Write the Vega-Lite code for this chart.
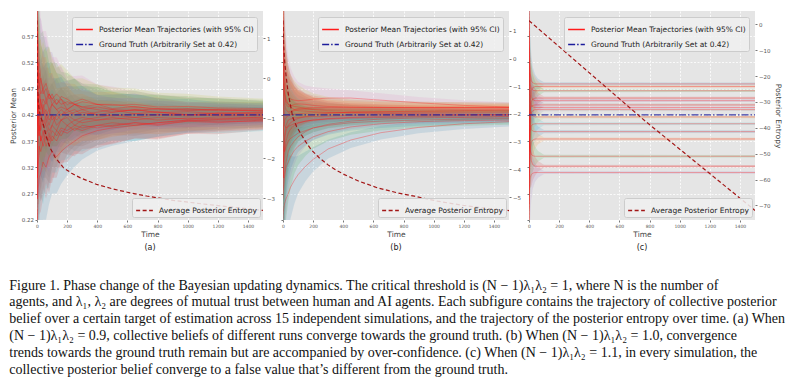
{
"$schema":"https://vega.github.io/schema/vega-lite/v6.json",
"background":"white",
"padding":{"left":9,"top":11,"right":5,"bottom":5},
"datasets":{
"gt":[{"t":0,"m":0.42},{"t":1500,"m":0.42}],
"eA":[{"t":0,"e":0.25},{"t":3,"e":0.2},{"t":8,"e":0.16},{"t":15,"e":0.13},{"t":25,"e":0.115},{"t":40,"e":0.11},{"t":60,"e":0.1},{"t":80,"e":0.09},{"t":100,"e":0.08},{"t":130,"e":0.07},{"t":160,"e":0.062},{"t":200,"e":0.055},{"t":250,"e":0.049},{"t":300,"e":0.045},{"t":400,"e":0.038},{"t":500,"e":0.034},{"t":650,"e":0.03},{"t":800,"e":0.027},{"t":1000,"e":0.024},{"t":1200,"e":0.022},{"t":1500,"e":0.019}],
"eB":[{"t":0,"e":0.25},{"t":4,"e":0.2},{"t":10,"e":0.14},{"t":20,"e":0.1},{"t":35,"e":0.075},{"t":50,"e":0.06},{"t":75,"e":0.045},{"t":100,"e":0.036},{"t":150,"e":0.028},{"t":200,"e":0.023},{"t":300,"e":0.018},{"t":450,"e":0.015},{"t":650,"e":0.013},{"t":900,"e":0.011},{"t":1200,"e":0.01},{"t":1500,"e":0.009}],
"eC":[{"t":0,"e":0.2},{"t":3,"e":0.13},{"t":8,"e":0.08},{"t":15,"e":0.05},{"t":25,"e":0.03},{"t":40,"e":0.018},{"t":60,"e":0.01},{"t":100,"e":0.003},{"t":1500,"e":0.0025}],
"hA":[{"t":0,"v":1.44},{"t":1,"v":0.75},{"t":2,"v":0.25},{"t":4,"v":-0.2},{"t":9,"v":-0.66},{"t":20,"v":-0.92},{"t":42,"v":-1.16},{"t":60,"v":-1.45},{"t":86,"v":-1.74},{"t":120,"v":-1.98},{"t":175,"v":-2.24},{"t":230,"v":-2.38},{"t":285,"v":-2.49},{"t":396,"v":-2.66},{"t":500,"v":-2.77},{"t":617,"v":-2.87},{"t":728,"v":-2.95},{"t":904,"v":-3.06},{"t":1126,"v":-3.16},{"t":1300,"v":-3.23},{"t":1500,"v":-3.31}],
"hB":[{"t":0,"v":1.38},{"t":2,"v":0.9},{"t":5,"v":0.4},{"t":11,"v":-0.1},{"t":20,"v":-0.6},{"t":33,"v":-1.2},{"t":50,"v":-1.7},{"t":66,"v":-2.14},{"t":90,"v":-2.45},{"t":121,"v":-2.74},{"t":150,"v":-3.0},{"t":187,"v":-3.29},{"t":240,"v":-3.58},{"t":297,"v":-3.83},{"t":350,"v":-4.02},{"t":408,"v":-4.19},{"t":500,"v":-4.42},{"t":628,"v":-4.67},{"t":760,"v":-4.85},{"t":872,"v":-4.97},{"t":1026,"v":-5.15},{"t":1181,"v":-5.29},{"t":1350,"v":-5.41},{"t":1500,"v":-5.49}],
"hC":[{"t":0,"v":1.4},{"t":767,"v":-37.2},{"t":1500,"v":-71.9}],
"A":[
{"r":3,"t":0,"m":0.6},{"r":3,"t":3,"m":0.52},{"r":3,"t":8,"m":0.48},{"r":3,"t":15,"m":0.5},{"r":3,"t":25,"m":0.46},{"r":3,"t":40,"m":0.47},{"r":3,"t":60,"m":0.45},{"r":3,"t":80,"m":0.46},{"r":3,"t":100,"m":0.44},{"r":3,"t":130,"m":0.45},{"r":3,"t":160,"m":0.44},{"r":3,"t":200,"m":0.445},{"r":3,"t":250,"m":0.44},{"r":3,"t":300,"m":0.435},{"r":3,"t":400,"m":0.44},{"r":3,"t":500,"m":0.432},{"r":3,"t":650,"m":0.436},{"r":3,"t":800,"m":0.43},{"r":3,"t":1000,"m":0.432},{"r":3,"t":1200,"m":0.428},{"r":3,"t":1500,"m":0.43},
{"r":2,"t":0,"m":0.3},{"r":2,"t":3,"m":0.36},{"r":2,"t":8,"m":0.41},{"r":2,"t":15,"m":0.38},{"r":2,"t":25,"m":0.4},{"r":2,"t":40,"m":0.43},{"r":2,"t":60,"m":0.41},{"r":2,"t":80,"m":0.42},{"r":2,"t":100,"m":0.44},{"r":2,"t":130,"m":0.43},{"r":2,"t":160,"m":0.42},{"r":2,"t":200,"m":0.425},{"r":2,"t":250,"m":0.43},{"r":2,"t":300,"m":0.42},{"r":2,"t":400,"m":0.425},{"r":2,"t":500,"m":0.43},{"r":2,"t":650,"m":0.422},{"r":2,"t":800,"m":0.426},{"r":2,"t":1000,"m":0.42},{"r":2,"t":1200,"m":0.423},{"r":2,"t":1500,"m":0.425},
{"r":1,"t":0,"m":0.24},{"r":1,"t":3,"m":0.22},{"r":1,"t":8,"m":0.28},{"r":1,"t":15,"m":0.3},{"r":1,"t":25,"m":0.31},{"r":1,"t":40,"m":0.33},{"r":1,"t":60,"m":0.32},{"r":1,"t":80,"m":0.34},{"r":1,"t":100,"m":0.35},{"r":1,"t":130,"m":0.34},{"r":1,"t":160,"m":0.35},{"r":1,"t":200,"m":0.36},{"r":1,"t":250,"m":0.37},{"r":1,"t":300,"m":0.38},{"r":1,"t":400,"m":0.39},{"r":1,"t":500,"m":0.395},{"r":1,"t":650,"m":0.4},{"r":1,"t":800,"m":0.405},{"r":1,"t":1000,"m":0.41},{"r":1,"t":1200,"m":0.412},{"r":1,"t":1500,"m":0.416},
{"r":4,"t":0,"m":0.5},{"r":4,"t":3,"m":0.58},{"r":4,"t":8,"m":0.45},{"r":4,"t":15,"m":0.4},{"r":4,"t":25,"m":0.37},{"r":4,"t":40,"m":0.39},{"r":4,"t":60,"m":0.36},{"r":4,"t":80,"m":0.38},{"r":4,"t":100,"m":0.37},{"r":4,"t":130,"m":0.39},{"r":4,"t":160,"m":0.38},{"r":4,"t":200,"m":0.4},{"r":4,"t":250,"m":0.39},{"r":4,"t":300,"m":0.4},{"r":4,"t":400,"m":0.395},{"r":4,"t":500,"m":0.4},{"r":4,"t":650,"m":0.405},{"r":4,"t":800,"m":0.4},{"r":4,"t":1000,"m":0.408},{"r":4,"t":1200,"m":0.405},{"r":4,"t":1500,"m":0.41},
{"r":5,"t":0,"m":0.45},{"r":5,"t":3,"m":0.4},{"r":5,"t":8,"m":0.52},{"r":5,"t":15,"m":0.47},{"r":5,"t":25,"m":0.49},{"r":5,"t":40,"m":0.46},{"r":5,"t":60,"m":0.47},{"r":5,"t":80,"m":0.45},{"r":5,"t":100,"m":0.46},{"r":5,"t":130,"m":0.44},{"r":5,"t":160,"m":0.45},{"r":5,"t":200,"m":0.43},{"r":5,"t":250,"m":0.44},{"r":5,"t":300,"m":0.435},{"r":5,"t":400,"m":0.43},{"r":5,"t":500,"m":0.425},{"r":5,"t":650,"m":0.43},{"r":5,"t":800,"m":0.425},{"r":5,"t":1000,"m":0.42},{"r":5,"t":1200,"m":0.424},{"r":5,"t":1500,"m":0.422},
{"r":6,"t":0,"m":0.35},{"r":6,"t":3,"m":0.45},{"r":6,"t":8,"m":0.38},{"r":6,"t":15,"m":0.42},{"r":6,"t":25,"m":0.39},{"r":6,"t":40,"m":0.41},{"r":6,"t":60,"m":0.4},{"r":6,"t":80,"m":0.38},{"r":6,"t":100,"m":0.4},{"r":6,"t":130,"m":0.39},{"r":6,"t":160,"m":0.41},{"r":6,"t":200,"m":0.4},{"r":6,"t":250,"m":0.41},{"r":6,"t":300,"m":0.405},{"r":6,"t":400,"m":0.41},{"r":6,"t":500,"m":0.415},{"r":6,"t":650,"m":0.41},{"r":6,"t":800,"m":0.415},{"r":6,"t":1000,"m":0.412},{"r":6,"t":1200,"m":0.416},{"r":6,"t":1500,"m":0.415},
{"r":7,"t":0,"m":0.55},{"r":7,"t":3,"m":0.62},{"r":7,"t":8,"m":0.56},{"r":7,"t":15,"m":0.52},{"r":7,"t":25,"m":0.49},{"r":7,"t":40,"m":0.47},{"r":7,"t":60,"m":0.48},{"r":7,"t":80,"m":0.46},{"r":7,"t":100,"m":0.45},{"r":7,"t":130,"m":0.46},{"r":7,"t":160,"m":0.45},{"r":7,"t":200,"m":0.44},{"r":7,"t":250,"m":0.445},{"r":7,"t":300,"m":0.45},{"r":7,"t":400,"m":0.44},{"r":7,"t":500,"m":0.44},{"r":7,"t":650,"m":0.435},{"r":7,"t":800,"m":0.432},{"r":7,"t":1000,"m":0.43},{"r":7,"t":1200,"m":0.43},{"r":7,"t":1500,"m":0.428},
{"r":8,"t":0,"m":0.28},{"r":8,"t":3,"m":0.33},{"r":8,"t":8,"m":0.36},{"r":8,"t":15,"m":0.4},{"r":8,"t":25,"m":0.37},{"r":8,"t":40,"m":0.38},{"r":8,"t":60,"m":0.41},{"r":8,"t":80,"m":0.39},{"r":8,"t":100,"m":0.4},{"r":8,"t":130,"m":0.42},{"r":8,"t":160,"m":0.41},{"r":8,"t":200,"m":0.415},{"r":8,"t":250,"m":0.4},{"r":8,"t":300,"m":0.41},{"r":8,"t":400,"m":0.415},{"r":8,"t":500,"m":0.42},{"r":8,"t":650,"m":0.415},{"r":8,"t":800,"m":0.42},{"r":8,"t":1000,"m":0.418},{"r":8,"t":1200,"m":0.42},{"r":8,"t":1500,"m":0.419},
{"r":9,"t":0,"m":0.58},{"r":9,"t":3,"m":0.48},{"r":9,"t":8,"m":0.44},{"r":9,"t":15,"m":0.46},{"r":9,"t":25,"m":0.43},{"r":9,"t":40,"m":0.45},{"r":9,"t":60,"m":0.44},{"r":9,"t":80,"m":0.46},{"r":9,"t":100,"m":0.45},{"r":9,"t":130,"m":0.44},{"r":9,"t":160,"m":0.455},{"r":9,"t":200,"m":0.45},{"r":9,"t":250,"m":0.44},{"r":9,"t":300,"m":0.445},{"r":9,"t":400,"m":0.44},{"r":9,"t":500,"m":0.438},{"r":9,"t":650,"m":0.44},{"r":9,"t":800,"m":0.435},{"r":9,"t":1000,"m":0.436},{"r":9,"t":1200,"m":0.433},{"r":9,"t":1500,"m":0.432},
{"r":10,"t":0,"m":0.4},{"r":10,"t":3,"m":0.3},{"r":10,"t":8,"m":0.33},{"r":10,"t":15,"m":0.35},{"r":10,"t":25,"m":0.38},{"r":10,"t":40,"m":0.36},{"r":10,"t":60,"m":0.38},{"r":10,"t":80,"m":0.37},{"r":10,"t":100,"m":0.39},{"r":10,"t":130,"m":0.38},{"r":10,"t":160,"m":0.395},{"r":10,"t":200,"m":0.39},{"r":10,"t":250,"m":0.4},{"r":10,"t":300,"m":0.395},{"r":10,"t":400,"m":0.4},{"r":10,"t":500,"m":0.405},{"r":10,"t":650,"m":0.4},{"r":10,"t":800,"m":0.405},{"r":10,"t":1000,"m":0.41},{"r":10,"t":1200,"m":0.407},{"r":10,"t":1500,"m":0.408},
{"r":11,"t":0,"m":0.52},{"r":11,"t":3,"m":0.44},{"r":11,"t":8,"m":0.41},{"r":11,"t":15,"m":0.44},{"r":11,"t":25,"m":0.42},{"r":11,"t":40,"m":0.4},{"r":11,"t":60,"m":0.42},{"r":11,"t":80,"m":0.43},{"r":11,"t":100,"m":0.41},{"r":11,"t":130,"m":0.42},{"r":11,"t":160,"m":0.43},{"r":11,"t":200,"m":0.42},{"r":11,"t":250,"m":0.425},{"r":11,"t":300,"m":0.43},{"r":11,"t":400,"m":0.42},{"r":11,"t":500,"m":0.425},{"r":11,"t":650,"m":0.43},{"r":11,"t":800,"m":0.424},{"r":11,"t":1000,"m":0.426},{"r":11,"t":1200,"m":0.422},{"r":11,"t":1500,"m":0.424},
{"r":12,"t":0,"m":0.26},{"r":12,"t":3,"m":0.4},{"r":12,"t":8,"m":0.46},{"r":12,"t":15,"m":0.43},{"r":12,"t":25,"m":0.45},{"r":12,"t":40,"m":0.42},{"r":12,"t":60,"m":0.43},{"r":12,"t":80,"m":0.41},{"r":12,"t":100,"m":0.42},{"r":12,"t":130,"m":0.4},{"r":12,"t":160,"m":0.41},{"r":12,"t":200,"m":0.42},{"r":12,"t":250,"m":0.41},{"r":12,"t":300,"m":0.415},{"r":12,"t":400,"m":0.41},{"r":12,"t":500,"m":0.412},{"r":12,"t":650,"m":0.415},{"r":12,"t":800,"m":0.41},{"r":12,"t":1000,"m":0.414},{"r":12,"t":1200,"m":0.412},{"r":12,"t":1500,"m":0.413},
{"r":13,"t":0,"m":0.48},{"r":13,"t":3,"m":0.56},{"r":13,"t":8,"m":0.5},{"r":13,"t":15,"m":0.48},{"r":13,"t":25,"m":0.44},{"r":13,"t":40,"m":0.43},{"r":13,"t":60,"m":0.45},{"r":13,"t":80,"m":0.43},{"r":13,"t":100,"m":0.44},{"r":13,"t":130,"m":0.43},{"r":13,"t":160,"m":0.435},{"r":13,"t":200,"m":0.43},{"r":13,"t":250,"m":0.44},{"r":13,"t":300,"m":0.43},{"r":13,"t":400,"m":0.435},{"r":13,"t":500,"m":0.43},{"r":13,"t":650,"m":0.428},{"r":13,"t":800,"m":0.432},{"r":13,"t":1000,"m":0.428},{"r":13,"t":1200,"m":0.43},{"r":13,"t":1500,"m":0.427},
{"r":14,"t":0,"m":0.33},{"r":14,"t":3,"m":0.26},{"r":14,"t":8,"m":0.32},{"r":14,"t":15,"m":0.36},{"r":14,"t":25,"m":0.35},{"r":14,"t":40,"m":0.37},{"r":14,"t":60,"m":0.39},{"r":14,"t":80,"m":0.36},{"r":14,"t":100,"m":0.38},{"r":14,"t":130,"m":0.37},{"r":14,"t":160,"m":0.39},{"r":14,"t":200,"m":0.385},{"r":14,"t":250,"m":0.395},{"r":14,"t":300,"m":0.39},{"r":14,"t":400,"m":0.4},{"r":14,"t":500,"m":0.398},{"r":14,"t":650,"m":0.405},{"r":14,"t":800,"m":0.402},{"r":14,"t":1000,"m":0.408},{"r":14,"t":1200,"m":0.41},{"r":14,"t":1500,"m":0.411},
{"r":15,"t":0,"m":0.42},{"r":15,"t":3,"m":0.5},{"r":15,"t":8,"m":0.43},{"r":15,"t":15,"m":0.39},{"r":15,"t":25,"m":0.41},{"r":15,"t":40,"m":0.44},{"r":15,"t":60,"m":0.42},{"r":15,"t":80,"m":0.4},{"r":15,"t":100,"m":0.42},{"r":15,"t":130,"m":0.41},{"r":15,"t":160,"m":0.42},{"r":15,"t":200,"m":0.43},{"r":15,"t":250,"m":0.42},{"r":15,"t":300,"m":0.425},{"r":15,"t":400,"m":0.42},{"r":15,"t":500,"m":0.418},{"r":15,"t":650,"m":0.422},{"r":15,"t":800,"m":0.42},{"r":15,"t":1000,"m":0.421},{"r":15,"t":1200,"m":0.419},{"r":15,"t":1500,"m":0.42}
],
"B":[
{"r":7,"t":0,"m":0.6},{"r":7,"t":4,"m":0.55},{"r":7,"t":10,"m":0.5},{"r":7,"t":20,"m":0.47},{"r":7,"t":35,"m":0.455},{"r":7,"t":50,"m":0.45},{"r":7,"t":75,"m":0.448},{"r":7,"t":100,"m":0.447},{"r":7,"t":150,"m":0.448},{"r":7,"t":200,"m":0.45},{"r":7,"t":300,"m":0.452},{"r":7,"t":450,"m":0.452},{"r":7,"t":650,"m":0.448},{"r":7,"t":900,"m":0.443},{"r":7,"t":1200,"m":0.438},{"r":7,"t":1500,"m":0.435},
{"r":2,"t":0,"m":0.3},{"r":2,"t":4,"m":0.34},{"r":2,"t":10,"m":0.37},{"r":2,"t":20,"m":0.39},{"r":2,"t":35,"m":0.4},{"r":2,"t":50,"m":0.405},{"r":2,"t":75,"m":0.41},{"r":2,"t":100,"m":0.413},{"r":2,"t":150,"m":0.417},{"r":2,"t":200,"m":0.42},{"r":2,"t":300,"m":0.423},{"r":2,"t":450,"m":0.425},{"r":2,"t":650,"m":0.426},{"r":2,"t":900,"m":0.427},{"r":2,"t":1200,"m":0.428},{"r":2,"t":1500,"m":0.429},
{"r":1,"t":0,"m":0.22},{"r":1,"t":4,"m":0.24},{"r":1,"t":10,"m":0.25},{"r":1,"t":20,"m":0.26},{"r":1,"t":35,"m":0.27},{"r":1,"t":50,"m":0.282},{"r":1,"t":75,"m":0.295},{"r":1,"t":100,"m":0.306},{"r":1,"t":150,"m":0.322},{"r":1,"t":200,"m":0.335},{"r":1,"t":300,"m":0.355},{"r":1,"t":450,"m":0.372},{"r":1,"t":650,"m":0.386},{"r":1,"t":900,"m":0.396},{"r":1,"t":1200,"m":0.403},{"r":1,"t":1500,"m":0.407},
{"r":4,"t":0,"m":0.5},{"r":4,"t":4,"m":0.46},{"r":4,"t":10,"m":0.44},{"r":4,"t":20,"m":0.43},{"r":4,"t":35,"m":0.425},{"r":4,"t":50,"m":0.427},{"r":4,"t":75,"m":0.43},{"r":4,"t":100,"m":0.432},{"r":4,"t":150,"m":0.433},{"r":4,"t":200,"m":0.434},{"r":4,"t":300,"m":0.434},{"r":4,"t":450,"m":0.434},{"r":4,"t":650,"m":0.434},{"r":4,"t":900,"m":0.434},{"r":4,"t":1200,"m":0.434},{"r":4,"t":1500,"m":0.434},
{"r":5,"t":0,"m":0.38},{"r":5,"t":4,"m":0.4},{"r":5,"t":10,"m":0.41},{"r":5,"t":20,"m":0.415},{"r":5,"t":35,"m":0.418},{"r":5,"t":50,"m":0.42},{"r":5,"t":75,"m":0.421},{"r":5,"t":100,"m":0.422},{"r":5,"t":150,"m":0.423},{"r":5,"t":200,"m":0.424},{"r":5,"t":300,"m":0.424},{"r":5,"t":450,"m":0.424},{"r":5,"t":650,"m":0.424},{"r":5,"t":900,"m":0.424},{"r":5,"t":1200,"m":0.424},{"r":5,"t":1500,"m":0.424},
{"r":6,"t":0,"m":0.55},{"r":6,"t":4,"m":0.5},{"r":6,"t":10,"m":0.47},{"r":6,"t":20,"m":0.45},{"r":6,"t":35,"m":0.44},{"r":6,"t":50,"m":0.435},{"r":6,"t":75,"m":0.43},{"r":6,"t":100,"m":0.428},{"r":6,"t":150,"m":0.427},{"r":6,"t":200,"m":0.426},{"r":6,"t":300,"m":0.425},{"r":6,"t":450,"m":0.424},{"r":6,"t":650,"m":0.423},{"r":6,"t":900,"m":0.422},{"r":6,"t":1200,"m":0.421},{"r":6,"t":1500,"m":0.42},
{"r":3,"t":0,"m":0.26},{"r":3,"t":4,"m":0.28},{"r":3,"t":10,"m":0.3},{"r":3,"t":20,"m":0.32},{"r":3,"t":35,"m":0.33},{"r":3,"t":50,"m":0.34},{"r":3,"t":75,"m":0.352},{"r":3,"t":100,"m":0.36},{"r":3,"t":150,"m":0.37},{"r":3,"t":200,"m":0.378},{"r":3,"t":300,"m":0.388},{"r":3,"t":450,"m":0.397},{"r":3,"t":650,"m":0.403},{"r":3,"t":900,"m":0.407},{"r":3,"t":1200,"m":0.409},{"r":3,"t":1500,"m":0.41},
{"r":8,"t":0,"m":0.45},{"r":8,"t":4,"m":0.42},{"r":8,"t":10,"m":0.4},{"r":8,"t":20,"m":0.395},{"r":8,"t":35,"m":0.398},{"r":8,"t":50,"m":0.4},{"r":8,"t":75,"m":0.403},{"r":8,"t":100,"m":0.405},{"r":8,"t":150,"m":0.408},{"r":8,"t":200,"m":0.41},{"r":8,"t":300,"m":0.412},{"r":8,"t":450,"m":0.414},{"r":8,"t":650,"m":0.415},{"r":8,"t":900,"m":0.416},{"r":8,"t":1200,"m":0.416},{"r":8,"t":1500,"m":0.417},
{"r":9,"t":0,"m":0.62},{"r":9,"t":4,"m":0.52},{"r":9,"t":10,"m":0.46},{"r":9,"t":20,"m":0.44},{"r":9,"t":35,"m":0.435},{"r":9,"t":50,"m":0.437},{"r":9,"t":75,"m":0.44},{"r":9,"t":100,"m":0.441},{"r":9,"t":150,"m":0.44},{"r":9,"t":200,"m":0.438},{"r":9,"t":300,"m":0.436},{"r":9,"t":450,"m":0.435},{"r":9,"t":650,"m":0.434},{"r":9,"t":900,"m":0.434},{"r":9,"t":1200,"m":0.434},{"r":9,"t":1500,"m":0.434},
{"r":10,"t":0,"m":0.33},{"r":10,"t":4,"m":0.36},{"r":10,"t":10,"m":0.38},{"r":10,"t":20,"m":0.4},{"r":10,"t":35,"m":0.41},{"r":10,"t":50,"m":0.412},{"r":10,"t":75,"m":0.414},{"r":10,"t":100,"m":0.415},{"r":10,"t":150,"m":0.416},{"r":10,"t":200,"m":0.417},{"r":10,"t":300,"m":0.418},{"r":10,"t":450,"m":0.419},{"r":10,"t":650,"m":0.42},{"r":10,"t":900,"m":0.42},{"r":10,"t":1200,"m":0.42},{"r":10,"t":1500,"m":0.42},
{"r":11,"t":0,"m":0.42},{"r":11,"t":4,"m":0.38},{"r":11,"t":10,"m":0.35},{"r":11,"t":20,"m":0.36},{"r":11,"t":35,"m":0.37},{"r":11,"t":50,"m":0.375},{"r":11,"t":75,"m":0.38},{"r":11,"t":100,"m":0.385},{"r":11,"t":150,"m":0.39},{"r":11,"t":200,"m":0.395},{"r":11,"t":300,"m":0.4},{"r":11,"t":450,"m":0.405},{"r":11,"t":650,"m":0.408},{"r":11,"t":900,"m":0.41},{"r":11,"t":1200,"m":0.412},{"r":11,"t":1500,"m":0.413},
{"r":12,"t":0,"m":0.48},{"r":12,"t":4,"m":0.44},{"r":12,"t":10,"m":0.42},{"r":12,"t":20,"m":0.418},{"r":12,"t":35,"m":0.42},{"r":12,"t":50,"m":0.425},{"r":12,"t":75,"m":0.428},{"r":12,"t":100,"m":0.43},{"r":12,"t":150,"m":0.431},{"r":12,"t":200,"m":0.431},{"r":12,"t":300,"m":0.431},{"r":12,"t":450,"m":0.431},{"r":12,"t":650,"m":0.431},{"r":12,"t":900,"m":0.431},{"r":12,"t":1200,"m":0.431},{"r":12,"t":1500,"m":0.431},
{"r":13,"t":0,"m":0.28},{"r":13,"t":4,"m":0.32},{"r":13,"t":10,"m":0.35},{"r":13,"t":20,"m":0.37},{"r":13,"t":35,"m":0.385},{"r":13,"t":50,"m":0.393},{"r":13,"t":75,"m":0.4},{"r":13,"t":100,"m":0.404},{"r":13,"t":150,"m":0.408},{"r":13,"t":200,"m":0.41},{"r":13,"t":300,"m":0.413},{"r":13,"t":450,"m":0.415},{"r":13,"t":650,"m":0.417},{"r":13,"t":900,"m":0.418},{"r":13,"t":1200,"m":0.419},{"r":13,"t":1500,"m":0.42},
{"r":14,"t":0,"m":0.52},{"r":14,"t":4,"m":0.48},{"r":14,"t":10,"m":0.46},{"r":14,"t":20,"m":0.445},{"r":14,"t":35,"m":0.44},{"r":14,"t":50,"m":0.438},{"r":14,"t":75,"m":0.436},{"r":14,"t":100,"m":0.435},{"r":14,"t":150,"m":0.432},{"r":14,"t":200,"m":0.43},{"r":14,"t":300,"m":0.428},{"r":14,"t":450,"m":0.427},{"r":14,"t":650,"m":0.427},{"r":14,"t":900,"m":0.427},{"r":14,"t":1200,"m":0.427},{"r":14,"t":1500,"m":0.427},
{"r":15,"t":0,"m":0.36},{"r":15,"t":4,"m":0.3},{"r":15,"t":10,"m":0.31},{"r":15,"t":20,"m":0.33},{"r":15,"t":35,"m":0.35},{"r":15,"t":50,"m":0.36},{"r":15,"t":75,"m":0.37},{"r":15,"t":100,"m":0.378},{"r":15,"t":150,"m":0.388},{"r":15,"t":200,"m":0.395},{"r":15,"t":300,"m":0.402},{"r":15,"t":450,"m":0.408},{"r":15,"t":650,"m":0.412},{"r":15,"t":900,"m":0.414},{"r":15,"t":1200,"m":0.415},{"r":15,"t":1500,"m":0.416}
],
"C":[
{"r":1,"t":0,"m":0.62},{"r":1,"t":3,"m":0.55},{"r":1,"t":8,"m":0.5},{"r":1,"t":15,"m":0.485},{"r":1,"t":25,"m":0.481},{"r":1,"t":40,"m":0.479},{"r":1,"t":60,"m":0.479},{"r":1,"t":100,"m":0.479},{"r":1,"t":1500,"m":0.479},
{"r":2,"t":0,"m":0.3},{"r":2,"t":3,"m":0.4},{"r":2,"t":8,"m":0.45},{"r":2,"t":15,"m":0.466},{"r":2,"t":25,"m":0.472},{"r":2,"t":40,"m":0.474},{"r":2,"t":60,"m":0.474},{"r":2,"t":100,"m":0.474},{"r":2,"t":1500,"m":0.474},
{"r":3,"t":0,"m":0.55},{"r":3,"t":3,"m":0.5},{"r":3,"t":8,"m":0.478},{"r":3,"t":15,"m":0.47},{"r":3,"t":25,"m":0.467},{"r":3,"t":40,"m":0.466},{"r":3,"t":60,"m":0.466},{"r":3,"t":100,"m":0.466},{"r":3,"t":1500,"m":0.466},
{"r":4,"t":0,"m":0.25},{"r":4,"t":3,"m":0.38},{"r":4,"t":8,"m":0.43},{"r":4,"t":15,"m":0.445},{"r":4,"t":25,"m":0.45},{"r":4,"t":40,"m":0.452},{"r":4,"t":60,"m":0.452},{"r":4,"t":100,"m":0.452},{"r":4,"t":1500,"m":0.452},
{"r":5,"t":0,"m":0.6},{"r":5,"t":3,"m":0.52},{"r":5,"t":8,"m":0.47},{"r":5,"t":15,"m":0.455},{"r":5,"t":25,"m":0.449},{"r":5,"t":40,"m":0.447},{"r":5,"t":60,"m":0.447},{"r":5,"t":100,"m":0.447},{"r":5,"t":1500,"m":0.447},
{"r":6,"t":0,"m":0.35},{"r":6,"t":3,"m":0.41},{"r":6,"t":8,"m":0.43},{"r":6,"t":15,"m":0.436},{"r":6,"t":25,"m":0.438},{"r":6,"t":40,"m":0.439},{"r":6,"t":60,"m":0.439},{"r":6,"t":100,"m":0.439},{"r":6,"t":1500,"m":0.439},
{"r":7,"t":0,"m":0.5},{"r":7,"t":3,"m":0.46},{"r":7,"t":8,"m":0.445},{"r":7,"t":15,"m":0.438},{"r":7,"t":25,"m":0.435},{"r":7,"t":40,"m":0.434},{"r":7,"t":60,"m":0.434},{"r":7,"t":100,"m":0.434},{"r":7,"t":1500,"m":0.434},
{"r":8,"t":0,"m":0.22},{"r":8,"t":3,"m":0.36},{"r":8,"t":8,"m":0.41},{"r":8,"t":15,"m":0.424},{"r":8,"t":25,"m":0.428},{"r":8,"t":40,"m":0.43},{"r":8,"t":60,"m":0.43},{"r":8,"t":100,"m":0.43},{"r":8,"t":1500,"m":0.43},
{"r":9,"t":0,"m":0.58},{"r":9,"t":3,"m":0.48},{"r":9,"t":8,"m":0.435},{"r":9,"t":15,"m":0.422},{"r":9,"t":25,"m":0.418},{"r":9,"t":40,"m":0.416},{"r":9,"t":60,"m":0.416},{"r":9,"t":100,"m":0.416},{"r":9,"t":1500,"m":0.416},
{"r":10,"t":0,"m":0.28},{"r":10,"t":3,"m":0.36},{"r":10,"t":8,"m":0.39},{"r":10,"t":15,"m":0.399},{"r":10,"t":25,"m":0.402},{"r":10,"t":40,"m":0.403},{"r":10,"t":60,"m":0.403},{"r":10,"t":100,"m":0.403},{"r":10,"t":1500,"m":0.403},
{"r":11,"t":0,"m":0.45},{"r":11,"t":3,"m":0.42},{"r":11,"t":8,"m":0.4},{"r":11,"t":15,"m":0.392},{"r":11,"t":25,"m":0.389},{"r":11,"t":40,"m":0.388},{"r":11,"t":60,"m":0.388},{"r":11,"t":100,"m":0.388},{"r":11,"t":1500,"m":0.388},
{"r":12,"t":0,"m":0.2},{"r":12,"t":3,"m":0.31},{"r":12,"t":8,"m":0.355},{"r":12,"t":15,"m":0.368},{"r":12,"t":25,"m":0.372},{"r":12,"t":40,"m":0.374},{"r":12,"t":60,"m":0.374},{"r":12,"t":100,"m":0.374},{"r":12,"t":1500,"m":0.374},
{"r":13,"t":0,"m":0.4},{"r":13,"t":3,"m":0.37},{"r":13,"t":8,"m":0.352},{"r":13,"t":15,"m":0.345},{"r":13,"t":25,"m":0.342},{"r":13,"t":40,"m":0.341},{"r":13,"t":60,"m":0.341},{"r":13,"t":100,"m":0.341},{"r":13,"t":1500,"m":0.341},
{"r":14,"t":0,"m":0.62},{"r":14,"t":3,"m":0.45},{"r":14,"t":8,"m":0.36},{"r":14,"t":15,"m":0.333},{"r":14,"t":25,"m":0.325},{"r":14,"t":40,"m":0.322},{"r":14,"t":60,"m":0.322},{"r":14,"t":100,"m":0.322},{"r":14,"t":1500,"m":0.322},
{"r":15,"t":0,"m":0.24},{"r":15,"t":3,"m":0.28},{"r":15,"t":8,"m":0.3},{"r":15,"t":15,"m":0.306},{"r":15,"t":25,"m":0.309},{"r":15,"t":40,"m":0.31},{"r":15,"t":60,"m":0.31},{"r":15,"t":100,"m":0.31},{"r":15,"t":1500,"m":0.31}
]
},
"title":{"text":["Figure 1. Phase change of the Bayesian updating dynamics. The critical threshold is (N − 1)λ₁λ₂ = 1, where N is the number of","agents, and λ₁, λ₂ are degrees of mutual trust between human and AI agents. Each subfigure contains the trajectory of collective posterior","belief over a certain target of estimation across 15 independent simulations, and the trajectory of the posterior entropy over time. (a) When","(N − 1)λ₁λ₂ = 0.9, collective beliefs of different runs converge towards the ground truth. (b) When (N − 1)λ₁λ₂ = 1.0, convergence","trends towards the ground truth remain but are accompanied by over-confidence. (c) When (N − 1)λ₁λ₂ = 1.1, in every simulation, the","collective posterior belief converge to a false value that’s different from the ground truth."],"orient":"bottom","anchor":"start","frame":"bounds","font":"Liberation Serif","fontSize":14,"fontWeight":"normal","color":"#111111","lineHeight":16.8,"offset":27},
"spacing":20,
"bounds":"flush",
"hconcat":[
{"width":226,"height":209,
"title":{"text":"(a)","orient":"bottom","fontSize":8,"fontWeight":"normal","color":"#222222","offset":6},
"layer":[
{"layer":[
{"data":{"name":"A"},"transform":[{"lookup":"t","from":{"data":{"name":"eA"},"key":"t","fields":["e"]}}],
"mark":{"type":"errorband","clip":true,"band":{"opacity":0.14}},
"encoding":{"x":{"field":"t","type":"quantitative","scale":{"domain":[0,1500],"nice":false},"axis":null},
"y":{"field":"m","type":"quantitative","scale":{"domain":[0.2195,0.618],"nice":false,"zero":false},"axis":null},
"yError":{"field":"e"},
"color":{"field":"r","type":"nominal","scale":{"scheme":"category10"},"legend":null}}},
{"data":{"name":"A"},"mark":{"type":"line","clip":true,"strokeWidth":0.8},
"encoding":{"x":{"field":"t","type":"quantitative","axis":{"orient":"bottom","title":"Time","values":[0,200,400,600,800,1000,1200,1400],"format":"d","labelOverlap":false,"labelFontSize":4.5,"titlePadding":2,"grid":true}},
"y":{"field":"m","type":"quantitative","axis":{"orient":"left","title":"Posterior Mean","values":[0.22,0.27,0.32,0.37,0.42,0.47,0.52,0.57],"format":".2f","labelOverlap":false,"grid":true,"titlePadding":4}},
"detail":{"field":"r"},
"stroke":{"datum":"Posterior Mean Trajectories (with 95% CI)","scale":{"domain":["Posterior Mean Trajectories (with 95% CI)","Ground Truth (Arbitrarily Set at 0.42)"],"range":["#ff1a1a","#1c1c9c"]},"legend":{"title":null,"orient":"top-right","offset":6}},
"strokeDash":{"datum":"Posterior Mean Trajectories (with 95% CI)","scale":{"domain":["Posterior Mean Trajectories (with 95% CI)","Ground Truth (Arbitrarily Set at 0.42)"],"range":[[1,0],[7,2,1.5,2]]},"legend":{"title":null,"orient":"top-right","offset":6}},
"strokeOpacity":{"datum":"Posterior Mean Trajectories (with 95% CI)","type":"ordinal","scale":{"domain":["Posterior Mean Trajectories (with 95% CI)","Ground Truth (Arbitrarily Set at 0.42)"],"range":[0.45,0.85]},"legend":{"title":null,"orient":"top-right","offset":6}}}},
{"data":{"name":"gt"},"mark":{"type":"line","strokeWidth":1.4},
"encoding":{"x":{"field":"t","type":"quantitative","axis":null},"y":{"field":"m","type":"quantitative","axis":null},
"stroke":{"datum":"Ground Truth (Arbitrarily Set at 0.42)"},"strokeDash":{"datum":"Ground Truth (Arbitrarily Set at 0.42)"},"strokeOpacity":{"datum":"Ground Truth (Arbitrarily Set at 0.42)","type":"ordinal"}}}
],
"resolve":{"axis":{"x":"independent","y":"independent"}}},
{"data":{"name":"hA"},"mark":{"type":"line","clip":true,"strokeWidth":1.2},
"encoding":{"x":{"field":"t","type":"quantitative","axis":null},
"y":{"field":"v","type":"quantitative","scale":{"domain":[-3.55,1.68],"nice":false,"zero":false},"axis":{"orient":"right","title":null,"values":[1,0,-1,-2,-3],"labelOverlap":false,"grid":false}},
"stroke":{"datum":"Average Posterior Entropy","scale":{"domain":["Average Posterior Entropy"],"range":["#a31515"]},"legend":{"title":null,"orient":"bottom-right","offset":3}},
"strokeDash":{"datum":"Average Posterior Entropy","scale":{"domain":["Average Posterior Entropy"],"range":[[4,2.5]]},"legend":{"title":null,"orient":"bottom-right","offset":3}}}}
],
"resolve":{"scale":{"y":"independent","stroke":"independent","strokeDash":"independent","strokeOpacity":"independent"},"axis":{"x":"independent"}}
},
{"width":226,"height":209,
"title":{"text":"(b)","orient":"bottom","fontSize":8,"fontWeight":"normal","color":"#222222","offset":6},
"layer":[
{"layer":[
{"data":{"name":"B"},"transform":[{"lookup":"t","from":{"data":{"name":"eB"},"key":"t","fields":["e"]}}],
"mark":{"type":"errorband","clip":true,"band":{"opacity":0.14}},
"encoding":{"x":{"field":"t","type":"quantitative","scale":{"domain":[0,1500],"nice":false},"axis":null},
"y":{"field":"m","type":"quantitative","scale":{"domain":[0.2195,0.618],"nice":false,"zero":false},"axis":null},
"yError":{"field":"e"},
"color":{"field":"r","type":"nominal","scale":{"scheme":"category10"},"legend":null}}},
{"data":{"name":"B"},"mark":{"type":"line","clip":true,"strokeWidth":0.8},
"encoding":{"x":{"field":"t","type":"quantitative","axis":{"orient":"bottom","title":"Time","values":[0,200,400,600,800,1000,1200,1400],"format":"d","labelOverlap":false,"labelFontSize":4.5,"titlePadding":2,"grid":true}},
"y":{"field":"m","type":"quantitative","axis":{"orient":"left","title":null,"labels":false,"values":[0.22,0.27,0.32,0.37,0.42,0.47,0.52,0.57],"grid":true}},
"detail":{"field":"r"},
"stroke":{"datum":"Posterior Mean Trajectories (with 95% CI)","scale":{"domain":["Posterior Mean Trajectories (with 95% CI)","Ground Truth (Arbitrarily Set at 0.42)"],"range":["#ff1a1a","#1c1c9c"]},"legend":{"title":null,"orient":"top-right","offset":6}},
"strokeDash":{"datum":"Posterior Mean Trajectories (with 95% CI)","scale":{"domain":["Posterior Mean Trajectories (with 95% CI)","Ground Truth (Arbitrarily Set at 0.42)"],"range":[[1,0],[7,2,1.5,2]]},"legend":{"title":null,"orient":"top-right","offset":6}},
"strokeOpacity":{"datum":"Posterior Mean Trajectories (with 95% CI)","type":"ordinal","scale":{"domain":["Posterior Mean Trajectories (with 95% CI)","Ground Truth (Arbitrarily Set at 0.42)"],"range":[0.45,0.85]},"legend":{"title":null,"orient":"top-right","offset":6}}}},
{"data":{"name":"gt"},"mark":{"type":"line","strokeWidth":1.4},
"encoding":{"x":{"field":"t","type":"quantitative","axis":null},"y":{"field":"m","type":"quantitative","axis":null},
"stroke":{"datum":"Ground Truth (Arbitrarily Set at 0.42)"},"strokeDash":{"datum":"Ground Truth (Arbitrarily Set at 0.42)"},"strokeOpacity":{"datum":"Ground Truth (Arbitrarily Set at 0.42)","type":"ordinal"}}}
],
"resolve":{"axis":{"x":"independent","y":"independent"}}},
{"data":{"name":"hB"},"mark":{"type":"line","clip":true,"strokeWidth":1.2},
"encoding":{"x":{"field":"t","type":"quantitative","axis":null},
"y":{"field":"v","type":"quantitative","scale":{"domain":[-5.83,1.72],"nice":false,"zero":false},"axis":{"orient":"right","title":null,"values":[1,0,-1,-2,-3,-4,-5],"labelOverlap":false,"grid":false}},
"stroke":{"datum":"Average Posterior Entropy","scale":{"domain":["Average Posterior Entropy"],"range":["#a31515"]},"legend":{"title":null,"orient":"bottom-right","offset":3}},
"strokeDash":{"datum":"Average Posterior Entropy","scale":{"domain":["Average Posterior Entropy"],"range":[[4,2.5]]},"legend":{"title":null,"orient":"bottom-right","offset":3}}}}
],
"resolve":{"scale":{"y":"independent","stroke":"independent","strokeDash":"independent","strokeOpacity":"independent"},"axis":{"x":"independent"}}
},
{"width":226,"height":209,
"title":{"text":"(c)","orient":"bottom","fontSize":8,"fontWeight":"normal","color":"#222222","offset":6},
"layer":[
{"layer":[
{"data":{"name":"C"},"transform":[{"lookup":"t","from":{"data":{"name":"eC"},"key":"t","fields":["e"]}}],
"mark":{"type":"errorband","clip":true,"band":{"opacity":0.14}},
"encoding":{"x":{"field":"t","type":"quantitative","scale":{"domain":[0,1500],"nice":false},"axis":null},
"y":{"field":"m","type":"quantitative","scale":{"domain":[0.2195,0.618],"nice":false,"zero":false},"axis":null},
"yError":{"field":"e"},
"color":{"field":"r","type":"nominal","scale":{"scheme":"category10"},"legend":null}}},
{"data":{"name":"C"},"mark":{"type":"line","clip":true,"strokeWidth":0.8},
"encoding":{"x":{"field":"t","type":"quantitative","axis":{"orient":"bottom","title":"Time","values":[0,200,400,600,800,1000,1200,1400],"format":"d","labelOverlap":false,"labelFontSize":4.5,"titlePadding":2,"grid":true}},
"y":{"field":"m","type":"quantitative","axis":{"orient":"left","title":null,"labels":false,"values":[0.22,0.27,0.32,0.37,0.42,0.47,0.52,0.57],"grid":true}},
"detail":{"field":"r"},
"stroke":{"datum":"Posterior Mean Trajectories (with 95% CI)","scale":{"domain":["Posterior Mean Trajectories (with 95% CI)","Ground Truth (Arbitrarily Set at 0.42)"],"range":["#ff1a1a","#1c1c9c"]},"legend":{"title":null,"orient":"top-right","offset":6}},
"strokeDash":{"datum":"Posterior Mean Trajectories (with 95% CI)","scale":{"domain":["Posterior Mean Trajectories (with 95% CI)","Ground Truth (Arbitrarily Set at 0.42)"],"range":[[1,0],[7,2,1.5,2]]},"legend":{"title":null,"orient":"top-right","offset":6}},
"strokeOpacity":{"datum":"Posterior Mean Trajectories (with 95% CI)","type":"ordinal","scale":{"domain":["Posterior Mean Trajectories (with 95% CI)","Ground Truth (Arbitrarily Set at 0.42)"],"range":[0.45,0.85]},"legend":{"title":null,"orient":"top-right","offset":6}}}},
{"data":{"name":"gt"},"mark":{"type":"line","strokeWidth":1.4},
"encoding":{"x":{"field":"t","type":"quantitative","axis":null},"y":{"field":"m","type":"quantitative","axis":null},
"stroke":{"datum":"Ground Truth (Arbitrarily Set at 0.42)"},"strokeDash":{"datum":"Ground Truth (Arbitrarily Set at 0.42)"},"strokeOpacity":{"datum":"Ground Truth (Arbitrarily Set at 0.42)","type":"ordinal"}}}
],
"resolve":{"axis":{"x":"independent","y":"independent"}}},
{"data":{"name":"hC"},"mark":{"type":"line","clip":true,"strokeWidth":1.2},
"encoding":{"x":{"field":"t","type":"quantitative","axis":null},
"y":{"field":"v","type":"quantitative","scale":{"domain":[-75.6,5.1],"nice":false,"zero":false},"axis":{"orient":"right","title":"Posterior Entropy","values":[0,-10,-20,-30,-40,-50,-60,-70],"labelOverlap":false,"grid":false,"titlePadding":3}},
"stroke":{"datum":"Average Posterior Entropy","scale":{"domain":["Average Posterior Entropy"],"range":["#a31515"]},"legend":{"title":null,"orient":"bottom-right","offset":3}},
"strokeDash":{"datum":"Average Posterior Entropy","scale":{"domain":["Average Posterior Entropy"],"range":[[4,2.5]]},"legend":{"title":null,"orient":"bottom-right","offset":3}}}}
],
"resolve":{"scale":{"y":"independent","stroke":"independent","strokeDash":"independent","strokeOpacity":"independent"},"axis":{"x":"independent"}}
}
],
"config":{
"font":"DejaVu Sans",
"view":{"fill":"#e5e5e5","stroke":null},
"axis":{"domain":false,"labelOverlap":false,"labelBound":false,"labelFlush":false,"tickColor":"#777777","tickSize":2,"labelColor":"#555555","labelFontSize":5.5,"labelPadding":1.5,"titleColor":"#444444","titleFontSize":7.5,"titleFontWeight":"normal","gridColor":"#ffffff","gridDash":[2,1.5],"gridWidth":0.8},
"legend":{"fillColor":"rgba(240,240,240,0.85)","strokeColor":"#cccccc","cornerRadius":2,"padding":3,"labelFontSize":7.5,"labelColor":"#222222","symbolType":"stroke","symbolSize":280,"symbolStrokeWidth":1.5,"rowPadding":2,"labelOffset":5}
}
}
